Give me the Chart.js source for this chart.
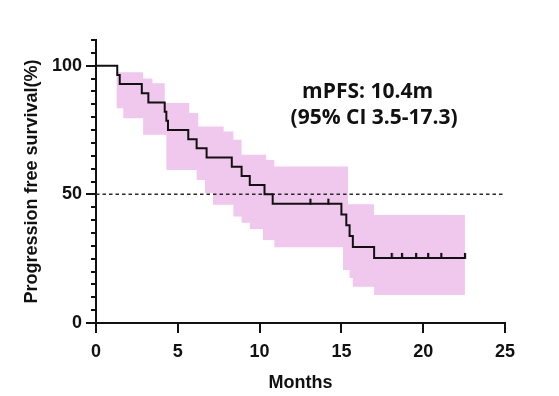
<!DOCTYPE html>
<html>
<head>
<meta charset="utf-8">
<script src="https://cdn.jsdelivr.net/npm/chart.js@4/dist/chart.umd.min.js"></script>
<style>
  html, body { margin: 0; padding: 0; background: #ffffff; }
  #wrap { width: 559px; height: 396px; }
</style>
</head>
<body>
<div id="wrap"><canvas id="km" width="559" height="396"></canvas></div>
<script>
// Kaplan-Meier PFS curve (months, % progression free)
const kmTimes = [0, 1.3, 1.45, 2.8, 3.2, 4.2, 4.3, 4.4, 5.64, 6.15, 6.76, 8.3, 8.9, 9.4, 10.3, 10.8, 15.0, 15.3, 15.5, 15.7, 17.0, 22.55];
const kmSurvival = [100, 96.4, 92.9, 89.3, 85.7, 82.1, 78.6, 75.0, 71.4, 67.9, 64.3, 60.7, 57.1, 53.6, 50.0, 46.4, 42.2, 38.0, 33.8, 29.5, 25.3, 25.3];

// censored patients
const censorTimes = [13.1, 14.2, 18.07, 18.7, 19.56, 20.3, 21.1, 22.55];
const censorSurvival = [46.4, 46.4, 25.3, 25.3, 25.3, 25.3, 25.3, 25.3];

// 95% confidence band
const bandTimes = [0, 1.26, 1.67, 2.88, 3.45, 4.2, 4.3, 5.7, 6.15, 6.25, 6.66, 7.15, 7.8, 8.4, 8.9, 9.4, 10.2, 10.4, 10.9, 15.1, 15.4, 15.5, 15.7, 17.0, 22.55];
const bandUpper = [100, 97.5, 97.5, 95.0, 93.2, 85.5, 85.5, 81.6, 81.6, 76.4, 76.4, 76.4, 74.4, 71.2, 65.4, 65.4, 65.4, 63.4, 60.8, 60.8, 46.2, 46.2, 46.2, 42.0, 42.0];
const bandLower = [100, 83.5, 79.6, 73.2, 73.2, 73.2, 59.5, 59.5, 55.6, 55.6, 50.5, 46.0, 46.0, 41.4, 39.0, 36.5, 32.3, 32.3, 29.4, 20.6, 20.6, 17.5, 14.1, 10.9, 10.9];

// median reference line
const medianLevel = 50;

// axes
const xTicks = [0, 5, 10, 15, 20, 25];
const yTicks = [0, 5, 10, 15, 20, 25, 30, 35, 40, 45, 50, 55, 60, 65, 70, 75, 80, 85, 90, 95, 100, 105, 110];
const yLabelled = [0, 50, 100];

const annotation = ['mPFS: 10.4m', '(95% CI 3.5-17.3)'];

const AXIS_COLOR = '#111111';
const BAND_COLOR = '#f0c8ed';
const AXIS_FONT = 'Liberation Sans';

const pts = (xs, ys) => xs.map((t, i) => ({ x: t, y: ys[i] }));

// Prism style ticks (long major, short minor) and the median text
const prismTicks = {
    id: 'prismTicks',
    afterDraw(chart) {
        const { ctx, chartArea, scales: { x, y } } = chart;
        ctx.save();
        ctx.strokeStyle = AXIS_COLOR;
        ctx.lineWidth = 2;
        ctx.beginPath();
        yTicks.forEach(v => {
            const py = Math.round(y.getPixelForValue(v));
            const len = yLabelled.includes(v) ? 10 : 5;
            ctx.moveTo(chartArea.left, py);
            ctx.lineTo(chartArea.left - len, py);
        });
        xTicks.forEach(v => {
            const px = Math.round(x.getPixelForValue(v));
            ctx.moveTo(px, chartArea.bottom);
            ctx.lineTo(px, chartArea.bottom + 10);
        });
        ctx.stroke();

        ctx.fillStyle = AXIS_COLOR;
        ctx.font = 'bold 21px "Open Sans"';
        ctx.textAlign = 'center';
        ctx.textBaseline = 'middle';
        ctx.fillText(annotation[0], x.getPixelForValue(16.6), y.getPixelForValue(89.8));
        ctx.fillText(annotation[1], x.getPixelForValue(17.0), y.getPixelForValue(79.6));
        ctx.restore();
    }
};

// vertical censor tick standing on the curve
const censorMark = document.createElement('canvas');
censorMark.width = 4;
censorMark.height = 12;
(() => {
    const c = censorMark.getContext('2d');
    c.fillStyle = AXIS_COLOR;
    c.fillRect(1, 1, 2.2, 6);
})();

new Chart(document.getElementById('km'), {
    type: 'line',
    data: {
        datasets: [
            {
                data: pts(censorTimes, censorSurvival),
                showLine: false,
                pointStyle: censorMark,
                pointRadius: 4,
                order: 0
            },
            {
                data: pts(kmTimes, kmSurvival),
                stepped: 'before',
                borderColor: AXIS_COLOR,
                borderWidth: 2,
                pointRadius: 0,
                fill: false,
                order: 1
            },
            {
                data: pts([xTicks[0], xTicks[xTicks.length - 1]], [medianLevel, medianLevel]),
                borderColor: '#2a2a2a',
                borderWidth: 1.5,
                borderDash: [3.5, 3],
                pointRadius: 0,
                fill: false,
                order: 2
            },
            {
                data: pts(bandTimes, bandUpper),
                stepped: 'before',
                borderWidth: 0,
                borderColor: 'rgba(0,0,0,0)',
                backgroundColor: BAND_COLOR,
                pointRadius: 0,
                fill: '+1',
                order: 3
            },
            {
                data: pts(bandTimes, bandLower),
                stepped: 'before',
                borderWidth: 0,
                borderColor: 'rgba(0,0,0,0)',
                pointRadius: 0,
                fill: false,
                order: 4
            }
        ]
    },
    options: {
        responsive: false,
        animation: false,
        devicePixelRatio: 1,
        layout: { padding: { top: 40, right: 54, left: 0, bottom: 0 } },
        plugins: {
            legend: { display: false },
            tooltip: { enabled: false }
        },
        scales: {
            x: {
                type: 'linear',
                min: 0,
                max: 25,
                afterFit: s => { s.height = 73; },
                border: { display: true, color: AXIS_COLOR, width: 2 },
                grid: { color: 'rgba(0,0,0,0)', drawOnChartArea: false, drawTicks: true, tickLength: 10 },
                ticks: {
                    stepSize: 5,
                    padding: 8,
                    color: AXIS_COLOR,
                    font: { family: AXIS_FONT, size: 18, weight: 'bold' }
                },
                title: {
                    display: true,
                    text: 'Months',
                    color: AXIS_COLOR,
                    padding: { top: 0, bottom: 2 },
                    font: { family: AXIS_FONT, size: 18, weight: 'bold' }
                }
            },
            y: {
                type: 'linear',
                min: 0,
                max: 110,
                afterFit: s => { s.width = 96; },
                border: { display: true, color: AXIS_COLOR, width: 2 },
                grid: { color: 'rgba(0,0,0,0)', drawOnChartArea: false, drawTicks: true, tickLength: 10 },
                ticks: {
                    stepSize: 5,
                    autoSkip: false,
                    padding: 4,
                    color: AXIS_COLOR,
                    font: { family: AXIS_FONT, size: 18, weight: 'bold' },
                    callback: v => (yLabelled.includes(v) ? String(v) : '')
                },
                title: {
                    display: true,
                    text: 'Progression free survival(%)',
                    color: AXIS_COLOR,
                    padding: { top: 21, bottom: 0 },
                    font: { family: AXIS_FONT, size: 18, weight: 'bold' }
                }
            }
        }
    },
    plugins: [prismTicks]
});
</script>
</body>
</html>
